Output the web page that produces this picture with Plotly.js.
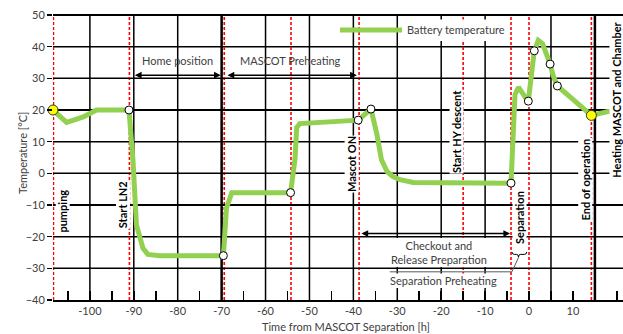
<!DOCTYPE html>
<html><head><meta charset="utf-8">
<script src="https://cdn.plot.ly/plotly-3.0.1.min.js"></script>
<style>html,body{margin:0;padding:0;background:#fff}#chart{width:623px;height:334px}</style>
</head><body><div id="chart"></div>
<script>
// ---- data ----
const timeH = [-108.4, -105.3, -101.5, -98.5, -91.1, -90.2, -89.4, -87.9, -86.8, -84, -69.6, -68.9, -67.7, -54.3, -53.3, -52.9, -52.2, -38.9, -36.0, -34.7, -33.6, -32.3, -31.0, -29.4, -26.4, -20, -4.1, -4.0, -3.7, -3.2, -2.4, -1.6, -0.7, -0.16, 1.2, 2.1, 3.1, 4.8, 5.5, 6.45, 12.4, 13.3, 14.2, 18, 21.4];
const batteryTemp = [20, 16.1, 17.8, 20, 20, 4.4, -16.3, -23.7, -25.6, -26, -26, -11, -6.1, -6.1, 4.4, 14.5, 15.7, 16.8, 20.3, 12.7, 4.3, 0.5, -1, -2, -2.9, -3, -3.1, 0, 13.7, 24.8, 27.2, 25.3, 23.7, 22.8, 38.7, 42, 40.9, 34.5, 30.8, 27.6, 20.3, 19.2, 18.3, 19.5, 19.5];
const checkpointTimeH = [-91.1, -69.6, -54.3, -38.9, -36.0, -4.1, -0.16, 1.2, 4.8, 6.45];
const checkpointTemp = [20, -26, -6.1, 16.8, 20.3, -3.1, 22.8, 38.7, 34.5, 27.6];
const startEndTimeH = [-108.4, 14.2];
const startEndTemp = [20, 18.3];
const eventTimesH = [-108.3, -91, -69.4, -54.2, -38.7, -15, -4.1, 0, 14.2];
const gridTimesH = [-100, -90, -80, -60, -50, -40, -30, -20, -10, 5];
const boldGridTimesH = [-70, 15];
const gridTemps = [40, 30, 20, 10, 0, -10, -20, -30];
const xTickVals = [-105, -100, -95, -90, -85, -80, -75, -70, -65, -60, -55, -50, -45, -40, -35, -30, -25, -20, -15, -10, -5, 0, 5, 10, 15, 20];
const xTickText = ['', '-100', '', '-90', '', '-80', '', '-70', '', '-60', '', '-50', '', '-40', '', '-30', '', '-20', '', '-10', '', '0', '', '10', '', '20'];
const yTickVals = [-40, -30, -20, -10, 0, 10, 20, 30, 40, 50];
const eventLabels = ['pumping', 'Start LN2', 'Mascot ON', 'Start HY descent', 'Separation', 'End of operation', 'Heating MASCOT and Chamber'];
const phaseLabels = ['Home position', 'MASCOT Preheating', 'Checkout and<br>Release Preparation', 'Separation Preheating'];
const seriesName = 'Battery temperature';
const xTitle = 'Time from MASCOT Separation [h]';
const yTitle = 'Temperature [°C]';

// ---- styling / layout ----
const GREEN = '#92D050';
const TXT = '#404040';
const FONT = 'Lato, sans-serif';
const XR = [-108.4, 21.4], YR = [-40, 50];

const shapes = [];
gridTemps.forEach(t => shapes.push({type:'line', layer:'below', xref:'x', x0:XR[0], x1:XR[1], yref:'y', y0:t, y1:t, line:{color:'#000', width:1.5}}));
gridTimesH.forEach(t => shapes.push({type:'line', layer:'below', xref:'x', x0:t, x1:t, yref:'y', y0:YR[0], y1:YR[1], line:{color:'#000', width:1.5}}));
boldGridTimesH.forEach(t => shapes.push({type:'line', layer:'below', xref:'x', x0:t, x1:t, yref:'y', y0:YR[0], y1:YR[1], line:{color:'#000', width:2.5}}));
shapes.push({type:'line', layer:'below', xref:'x', x0:XR[0], x1:XR[1], yref:'y', y0:YR[1], y1:YR[1], line:{color:'#000', width:2}});
eventTimesH.forEach(t => shapes.push({type:'line', layer:'below', xref:'x', x0:t, x1:t, yref:'y', y0:YR[0], y1:YR[1], line:{color:'#FF0000', width:1.6, dash:'3px,2px'}}));
// white backgrounds that interrupt the grid behind texts
shapes.push({type:'rect', layer:'above', xref:'x', yref:'y', x0:-28.6, x1:-5.4, y0:41.8, y1:48.6, fillcolor:'#fff', line:{width:0}});
shapes.push({type:'rect', layer:'above', xref:'x', yref:'y', x0:-31.5, x1:-7.5, y0:-31.6, y1:-36.2, fillcolor:'#fff', line:{width:0}});
shapes.push({type:'rect', layer:'above', xref:'x', yref:'y', x0:-34, x1:-4.5, y0:-20.4, y1:-29.6, fillcolor:'#fff', line:{width:0}});
// separation preheating bracket and leader
shapes.push({type:'path', layer:'above', xref:'x', yref:'y',
  path:'M -3.9,-24.8 Q -3.9,-25.6 -3.3,-25.6 L -2.8,-25.6 Q -2.4,-25.6 -2.4,-26.5 Q -2.4,-25.6 -2.0,-25.6 L -1.1,-25.6 Q -0.5,-25.6 -0.5,-24.8',
  line:{color:'#000', width:1}});
shapes.push({type:'path', layer:'above', xref:'x', yref:'y',
  path:'M -2.4,-26.6 L -3.9,-31.1 L -31.7,-31.1', line:{color:'#595959', width:1}});

const annotations = [];
const vlab = (txt, x, y) => annotations.push({text:'<b>'+txt+'</b>', x:x, y:y, xref:'x', yref:'y', textangle:-90, showarrow:false,
  xanchor:'center', yanchor:'middle', font:{family:FONT, size:11, color:'#000'}, bgcolor:'#fff', borderpad:0});
vlab(eventLabels[0], -106.15, -11.8);
vlab(eventLabels[1], -92.5, -9.8);
vlab(eventLabels[2], -40.4, 2.8);
vlab(eventLabels[3], -16.5, 13.2);
vlab(eventLabels[4], -2.05, -14.1);
vlab(eventLabels[5], 12.76, -1.9);
vlab(eventLabels[6], 20.0, 23.2);
const hlab = (txt, x, y) => annotations.push({text:txt, x:x, y:y, xref:'x', yref:'y', showarrow:false,
  xanchor:'center', yanchor:'middle', font:{family:FONT, size:11, color:TXT}});
hlab(phaseLabels[0], -80, 35.5);
hlab(phaseLabels[1], -54.3, 35.5);
hlab(phaseLabels[2], -20.5, -24.9);
hlab(phaseLabels[3], -19.5, -33.8);
const darrow = (x0, x1, y) => annotations.push({text:'', x:x1, y:y, ax:x0, ay:y, xref:'x', yref:'y', axref:'x', ayref:'y',
  showarrow:true, arrowhead:2, startarrowhead:2, arrowside:'end+start', arrowsize:0.9, startarrowsize:0.9, arrowwidth:1.5, arrowcolor:'#000', standoff:0, startstandoff:0});
darrow(-90.1, -70.2, 31);
darrow(-69.0, -39.2, 31);
darrow(-38.5, -4.3, -19);
// axis titles
annotations.push({text:xTitle, xref:'paper', yref:'paper', x:(346-53)/570, y:-(326-300)/285, xanchor:'center', yanchor:'middle', showarrow:false, font:{family:FONT, size:11, color:TXT}});
annotations.push({text:yTitle, xref:'paper', yref:'paper', x:(22-53)/570, y:1-(153-15)/285, xanchor:'center', yanchor:'middle', textangle:-90, showarrow:false, font:{family:FONT, size:11, color:TXT}});

const traces = [
  {x:timeH, y:batteryTemp, type:'scatter', mode:'lines', name:seriesName, line:{color:GREEN, width:5}, cliponaxis:true, showlegend:true},
  {x:checkpointTimeH, y:checkpointTemp, xaxis:'x2', yaxis:'y2', type:'scatter', mode:'markers', marker:{color:'#fff', size:8, line:{color:'#000', width:1}}, showlegend:false, cliponaxis:false},
  {x:startEndTimeH, y:startEndTemp, xaxis:'x2', yaxis:'y2', type:'scatter', mode:'markers', marker:{color:'#FFFF00', size:10, line:{color:'#333', width:1}}, showlegend:false, cliponaxis:false}
];

const layout = {
  width:623, height:334,
  margin:{l:53, r:0, t:15, b:34},
  paper_bgcolor:'#fff', plot_bgcolor:'#fff',
  font:{family:FONT, size:11, color:TXT},
  showlegend:true,
  legend:{x:(335-53)/570, xanchor:'left', y:1-(30-15)/285, yanchor:'middle', bgcolor:'rgba(0,0,0,0)', borderwidth:0,
    font:{family:FONT, size:11, color:TXT}, itemwidth:62, tracegroupgap:0},
  xaxis:{range:XR, showgrid:false, zeroline:false, showline:true, mirror:true, linecolor:'#000', linewidth:1.5,
    ticks:'inside', ticklen:9, tickwidth:1.5, tickcolor:'#000', tickmode:'array', tickvals:xTickVals, ticktext:xTickText,
    tickfont:{family:FONT, size:11, color:TXT}, fixedrange:true},
  yaxis:{range:YR, showgrid:true, gridcolor:'#000', gridwidth:1.5, zeroline:false, showline:false,
    ticks:'outside', ticklen:5, tickwidth:1.5, tickcolor:'#000', tickmode:'array', tickvals:yTickVals,
    tickfont:{family:FONT, size:11, color:TXT}, fixedrange:true},
  xaxis2:{range:XR, overlaying:'x', anchor:'y2', side:'bottom', showgrid:false, showticklabels:false, ticks:'', zeroline:false, showline:false, fixedrange:true},
  yaxis2:{range:YR, overlaying:'y', anchor:'x2', side:'left', showgrid:false, showticklabels:false, ticks:'', zeroline:false, showline:false, fixedrange:true},
  shapes:shapes, annotations:annotations
};

const gd = document.getElementById('chart');
function patchLegend(){
  gd.querySelectorAll('.legend .legendlines path').forEach(p => p.setAttribute('d', 'M5,0h62'));
}
Plotly.newPlot(gd, traces, layout, {displayModeBar:false, staticPlot:true}).then(() => {
  patchLegend();
  gd.on('plotly_afterplot', patchLegend);
});
</script>
</body></html>
